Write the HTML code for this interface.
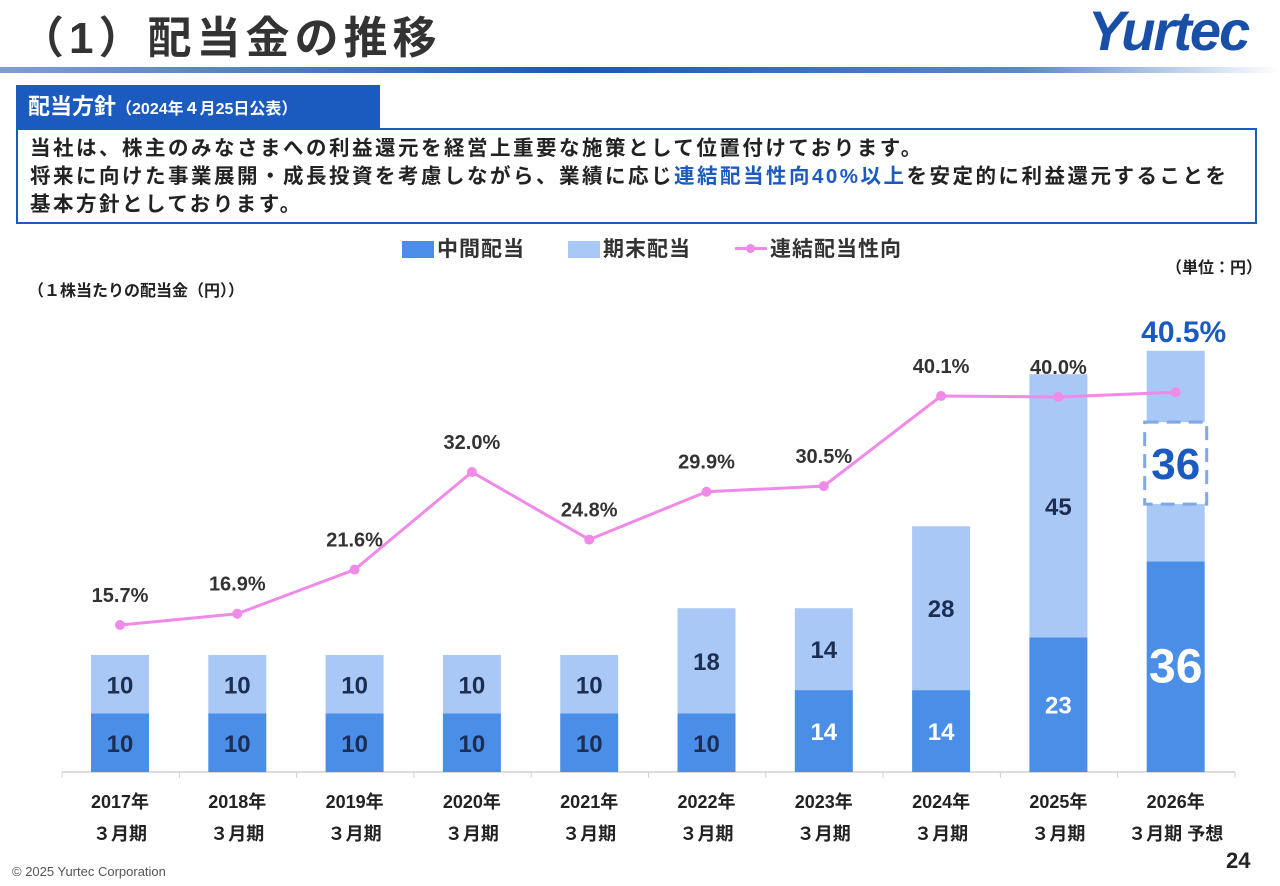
<!DOCTYPE html>
<html><head><meta charset="utf-8">
<style>
body{margin:0;width:1280px;height:886px;background:#fff;font-family:"Liberation Sans","Noto Sans CJK JP",sans-serif;position:relative;overflow:hidden;color:#222}
.abs{position:absolute}
</style></head><body>
<div class="abs" style="left:20px;top:2px;font-size:44px;font-weight:bold;color:#333;letter-spacing:5px;white-space:nowrap">（1）配当金の推移</div>
<div class="abs" style="left:1088px;top:-2px;font-size:56px;font-weight:900;font-style:italic;color:#1a4fa8;letter-spacing:-2px">Yurtec</div>
<div class="abs" style="left:0;top:67px;width:1280px;height:6px;background:linear-gradient(90deg,#7f9fd0,#1e56b5 45%,#5d88cc 80%,#fff)"></div>
<div class="abs" style="left:16px;top:85px;width:364px;height:44px;background:#1b5bc0;color:#fff;font-weight:bold;font-size:22px;line-height:44px;padding-left:12px;box-sizing:border-box;white-space:nowrap">配当方針<span style="font-size:16px">（2024年４月25日公表）</span></div>
<div class="abs" style="left:16px;top:128px;width:1241px;height:96px;border:2px solid #1b5bc0;box-sizing:border-box;font-size:20.5px;font-weight:bold;line-height:28px;padding:5px 0 0 12px;letter-spacing:2.5px;white-space:nowrap">当社は、株主のみなさまへの利益還元を経営上重要な施策として位置付けております。<br>将来に向けた事業展開・成長投資を考慮しながら、業績に応じ<span style="color:#1b5bc0">連結配当性向40%以上</span>を安定的に利益還元することを<br>基本方針としております。</div>
<div class="abs" style="left:402px;top:233px;font-size:21px;font-weight:bold;color:#333;white-space:nowrap;letter-spacing:1px"><span style="display:inline-block;width:32px;height:17px;background:#4a8ee8;vertical-align:-2px;margin-right:3px"></span>中間配当</div>
<div class="abs" style="left:568px;top:233px;font-size:21px;font-weight:bold;color:#333;white-space:nowrap;letter-spacing:1px"><span style="display:inline-block;width:32px;height:17px;background:#a9c8f5;vertical-align:-2px;margin-right:3px"></span>期末配当</div>
<div class="abs" style="left:735px;top:233px;font-size:21px;font-weight:bold;color:#333;white-space:nowrap;letter-spacing:1px"><span style="display:inline-block;width:32px;height:3px;background:#f08ae8;vertical-align:6px;position:relative;margin-right:3px"><span style="position:absolute;left:11px;top:-3px;width:9px;height:9px;border-radius:50%;background:#f08ae8"></span></span>連結配当性向</div>
<div class="abs" style="left:1166px;top:254px;font-size:16px;font-weight:bold;white-space:nowrap">（単位：円）</div>
<div class="abs" style="left:28px;top:277px;font-size:16px;font-weight:bold;white-space:nowrap">（１株当たりの配当金（円））</div>
<svg class="abs" style="left:0;top:0" width="1280" height="886" id="chart"></svg>
<div class="abs" style="left:12px;top:864px;font-size:13px;color:#555">© 2025 Yurtec Corporation</div>
<div class="abs" style="left:1226px;top:848px;font-size:22px;font-weight:bold">24</div>
<script>
const years=["2017年","2018年","2019年","2020年","2021年","2022年","2023年","2024年","2025年","2026年"];
const periodLabels=["３月期","３月期","３月期","３月期","３月期","３月期","３月期","３月期","３月期","３月期 予想"];
const interim=[10,10,10,10,10,10,14,14,23,36];
const yearEnd=[10,10,10,10,10,18,14,28,45,36];
const payout=[15.7,16.9,21.6,32.0,24.8,29.9,30.5,40.1,40.0,40.5];
const NS="http://www.w3.org/2000/svg";
const svg=document.getElementById('chart');
const base=772, ypx=5.85;
const xC=i=>120+i*117.3;
const yV=v=>base-v*ypx;
const yP=p=>625-(p-15.7)*9.385;
function mk(t,a){const e=document.createElementNS(NS,t);for(const k in a)e.setAttribute(k,a[k]);svg.appendChild(e);return e;}
function txt(x,y,s,size,fill,weight){const e=mk('text',{x:x,y:y,'text-anchor':'middle','font-size':size,fill:fill,'font-weight':weight||'bold','font-family':'"Liberation Sans","Noto Sans CJK JP",sans-serif'});e.textContent=s;return e;}
const ax=mk('line',{x1:62,y1:base,x2:1235,y2:base,stroke:'#d0d0d0','stroke-width':1.5});

for(let i=0;i<=years.length;i++){const tx=62+i*117.3;const t=mk('line',{x1:tx,y1:base,x2:tx,y2:base+6,stroke:'#d0d0d0'});}
years.forEach((y,i)=>{
 const x=xC(i),w=58;
 const b1=mk('rect',{x:x-w/2,y:yV(interim[i]),width:w,height:interim[i]*ypx,fill:'#4a8ee8'});
 
 const b2=mk('rect',{x:x-w/2,y:yV(interim[i]+yearEnd[i]),width:w,height:yearEnd[i]*ypx,fill:'#a9c8f5'});
 
 const last=i===years.length-1;
 const l1=txt(x,(yV(interim[i])+base)/2+(last?16:9),interim[i],last?48:24,last?'#fff':(i>=6?'#fff':'#1c2e52'));
 
 const ym=(yV(interim[i])+yV(interim[i]+yearEnd[i]))/2;
 if(last){
  const r=mk('rect',{x:x-31,y:ym-34,width:62,height:82,fill:'#fff',stroke:'#7ea8e8','stroke-width':3,'stroke-dasharray':'14,8'});
  
  const l=txt(x,ym+23,yearEnd[i],44,'#1b5bc0');
 } else {
  const l2=txt(x,ym+9,yearEnd[i],24,'#1c2e52');
 }
 const a=txt(x,808,y,18,'#222');
 const p=txt(x,840,periodLabels[i],18,'#222');
});
const pts=payout.map((p,i)=>xC(i)+','+yP(p)).join(' ');
const pl=mk('polyline',{points:pts,fill:'none',stroke:'#f08ae8','stroke-width':3});

payout.forEach((p,i)=>{
 const c=mk('circle',{cx:xC(i),cy:yP(p),r:5,fill:'#f08ae8'});
 
 const last=i===payout.length-1;
 const t=last?txt(xC(i)+8,342,p.toFixed(1)+'%',30,'#1b5bc0'):txt(xC(i),yP(p)-23,p.toFixed(1)+'%',20,'#333');
 
});
</script>
</body></html>
